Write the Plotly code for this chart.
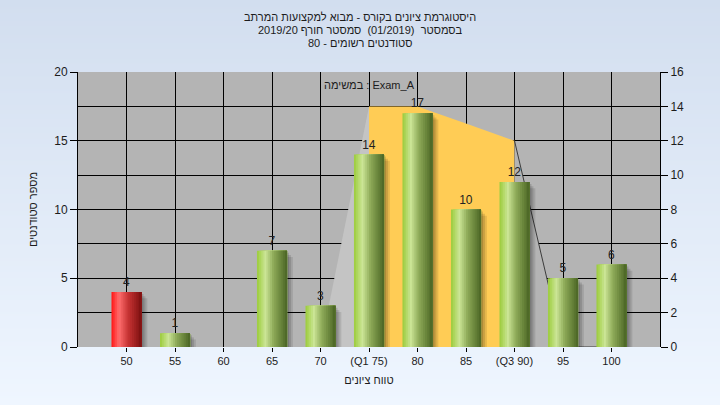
import base64
import struct
import zlib

import plotly.graph_objects as go

# ---------------- data ----------------
grades = [50, 55, 60, 65, 70, 75, 80, 85, 90, 95, 100]
grade_labels = ["50", "55", "60", "65", "70", "(Q1 75)", "80", "85", "(Q3 90)", "95", "100"]
counts = [4, 1, 0, 7, 3, 14, 17, 10, 12, 5, 6]
fail_grades = [50]

area_grades = [70, 75, 80, 85, 90, 95, 100]
area_values = [0, 14, 14, 13, 12, 0, 0]
q1_grade = 75
q3_grade = 90

title_lines = [
    "היסטוגרמת ציונים בקורס - מבוא למקצועות המרתב",
    "בסמסטר  (01/2019)  סמסטר חורף 2019/20",
    "סטודנטים רשומים - 80",
]
task_label = "במשימה : Exam_A"
x_title = "טווח ציונים"
y_title = "מספר סטודנטים"

# ---------------- styling helpers ----------------
FONT = "Liberation Sans, DejaVu Sans, Arial, sans-serif"
TXT = "#1c1c1c"

W, H = 720, 405
L, R, T, B = 78, 60, 72, 58
PW, PH = W - L - R, H - T - B


def hex2rgb(h):
    h = h.lstrip("#")
    return [int(h[i:i + 2], 16) for i in (0, 2, 4)]


def lerp_stops(stops, t):
    for (p0, c0), (p1, c1) in zip(stops, stops[1:]):
        if p0 <= t <= p1:
            f = 0 if p1 == p0 else (t - p0) / (p1 - p0)
            a, b = hex2rgb(c0), hex2rgb(c1)
            return "rgb(%d,%d,%d)" % tuple(round(a[k] + (b[k] - a[k]) * f) for k in range(3))
    return stops[-1][1]


green_stops = [(0.0, "#9bcb3a"), (0.28, "#cbe596"), (0.55, "#8eaa58"), (1.0, "#4a6524")]
red_stops = [(0.0, "#ff1414"), (0.25, "#ff6e6e"), (0.55, "#c83434"), (1.0, "#7c1010")]


def png_gradient(h, top, bot):
    a, b = hex2rgb(top), hex2rgb(bot)
    raw = b""
    for r in range(h):
        f = r / (h - 1)
        raw += b"\x00" + bytes(round(a[k] + (b[k] - a[k]) * f) for k in range(3))

    def chunk(tag, data):
        c = struct.pack(">I", len(data)) + tag + data
        return c + struct.pack(">I", zlib.crc32(tag + data) & 0xFFFFFFFF)

    png = b"\x89PNG\r\n\x1a\n"
    png += chunk(b"IHDR", struct.pack(">IIBBBBB", 1, h, 8, 2, 0, 0, 0))
    png += chunk(b"IDAT", zlib.compress(raw))
    png += chunk(b"IEND", b"")
    return "data:image/png;base64," + base64.b64encode(png).decode()


fig = go.Figure()

# ---------------- quartile area (right axis) ----------------
i_q1 = area_grades.index(q1_grade)
i_q3 = area_grades.index(q3_grade)
fig.add_trace(go.Scatter(
    x=area_grades[:i_q1 + 1], y=area_values[:i_q1 + 1], fill="tozeroy",
    fillcolor="#c4c4c4", mode="lines", line=dict(width=0), yaxis="y",
    hoverinfo="skip"))
fig.add_trace(go.Scatter(
    x=area_grades[i_q1:i_q3 + 1], y=area_values[i_q1:i_q3 + 1], fill="tozeroy",
    fillcolor="#ffcc55", mode="lines", line=dict(width=0), yaxis="y",
    hoverinfo="skip"))
fig.add_trace(go.Scatter(
    x=area_grades[i_q3:], y=area_values[i_q3:], fill="tozeroy",
    fillcolor="#b4b4b4", mode="lines", line=dict(width=1, color="#3c3c3c"), yaxis="y",
    hoverinfo="skip"))

# ---------------- bars (left axis, overlaying) ----------------
BW = 3.1
# shadows
for s, d, a in [(0.6, 0.45, 0.10), (0.4, 0.3, 0.12), (0.2, 0.15, 0.14)]:
    fig.add_trace(go.Bar(
        x=grades, y=counts, base=-d, offset=-BW / 2 + s, width=BW,
        marker=dict(color="rgba(0,0,0,%.2f)" % a, line=dict(width=0)),
        yaxis="y2", hoverinfo="skip"))

N = 16
for i in range(N):
    t = (i + 0.5) / N
    cols = [lerp_stops(red_stops if g in fail_grades else green_stops, t) for g in grades]
    fig.add_trace(go.Bar(
        x=grades, y=counts, offset=-BW / 2 + i * BW / N, width=BW - i * BW / N,
        marker=dict(color=cols, line=dict(width=0)), yaxis="y2", hoverinfo="skip"))

# value labels
fig.add_trace(go.Bar(
    x=grades, y=counts, offset=-BW / 2, width=BW,
    marker=dict(color="rgba(0,0,0,0)", line=dict(width=0)),
    text=[str(v) if v else "" for v in counts], textposition="outside",
    textfont=dict(family=FONT, size=12, color="#222222"), cliponaxis=False,
    yaxis="y2", hoverinfo="skip"))

# ---------------- layout ----------------
annotations = []
for k, line in enumerate(title_lines):
    py = 17 + 13 * k
    annotations.append(dict(
        text="\u202b" + line + "\u202c", xref="paper", yref="paper",
        x=(360 - L) / PW, y=(H - B - py) / PH, xanchor="center", yanchor="middle",
        showarrow=False, font=dict(family=FONT, size=11, color=TXT)))
annotations.append(dict(
    text=task_label, xref="paper", yref="paper",
    x=(322 - L) / PW, y=(H - B - 85) / PH, xanchor="left", yanchor="middle",
    showarrow=False, font=dict(family=FONT, size=11, color=TXT)))

fig.update_layout(
    width=W, height=H,
    margin=dict(l=L, r=R, t=T, b=B),
    paper_bgcolor="#e3ebf6",
    plot_bgcolor="rgba(0,0,0,0)",
    showlegend=False,
    barmode="overlay",
    font=dict(family=FONT, size=11, color=TXT),
    annotations=annotations,
    images=[dict(
        source=png_gradient(H, "#d2deef", "#eff6ff"), xref="paper", yref="paper",
        x=-L / PW, y=1 + T / PH, sizex=W / PW, sizey=H / PH,
        xanchor="left", yanchor="top", sizing="stretch", layer="below")],
    shapes=[dict(type="rect", xref="paper", yref="paper", x0=0, x1=1, y0=0, y1=1,
                 fillcolor="#b4b4b4", line=dict(width=0), layer="below")],
    xaxis=dict(
        range=[45, 105], tickvals=grades, ticktext=grade_labels,
        showgrid=True, gridcolor="#000000", gridwidth=1, zeroline=False,
        showline=False, ticks="outside", ticklen=4, tickcolor="#000000",
        tickfont=dict(family=FONT, size=11, color=TXT),
        title=dict(text=x_title, standoff=10, font=dict(family=FONT, size=11, color=TXT))),
    yaxis=dict(
        side="right", range=[0, 16], dtick=2, showgrid=True, gridcolor="#000000",
        gridwidth=1, zeroline=False, showline=True, linecolor="#000000",
        ticks="outside", ticklen=7, tickcolor="#000000",
        tickfont=dict(family=FONT, size=12, color=TXT)),
    yaxis2=dict(
        side="left", overlaying="y", range=[0, 20], tickvals=[0, 5, 10, 15, 20],
        showgrid=False, zeroline=False, showline=True, linecolor="#000000",
        ticks="outside", ticklen=7, tickcolor="#000000",
        tickfont=dict(family=FONT, size=12, color=TXT),
        title=dict(text=y_title, standoff=14, font=dict(family=FONT, size=11, color=TXT))),
)

fig.write_html("out.html", config={"displayModeBar": False},
               post_script="document.body.style.margin='0';")
